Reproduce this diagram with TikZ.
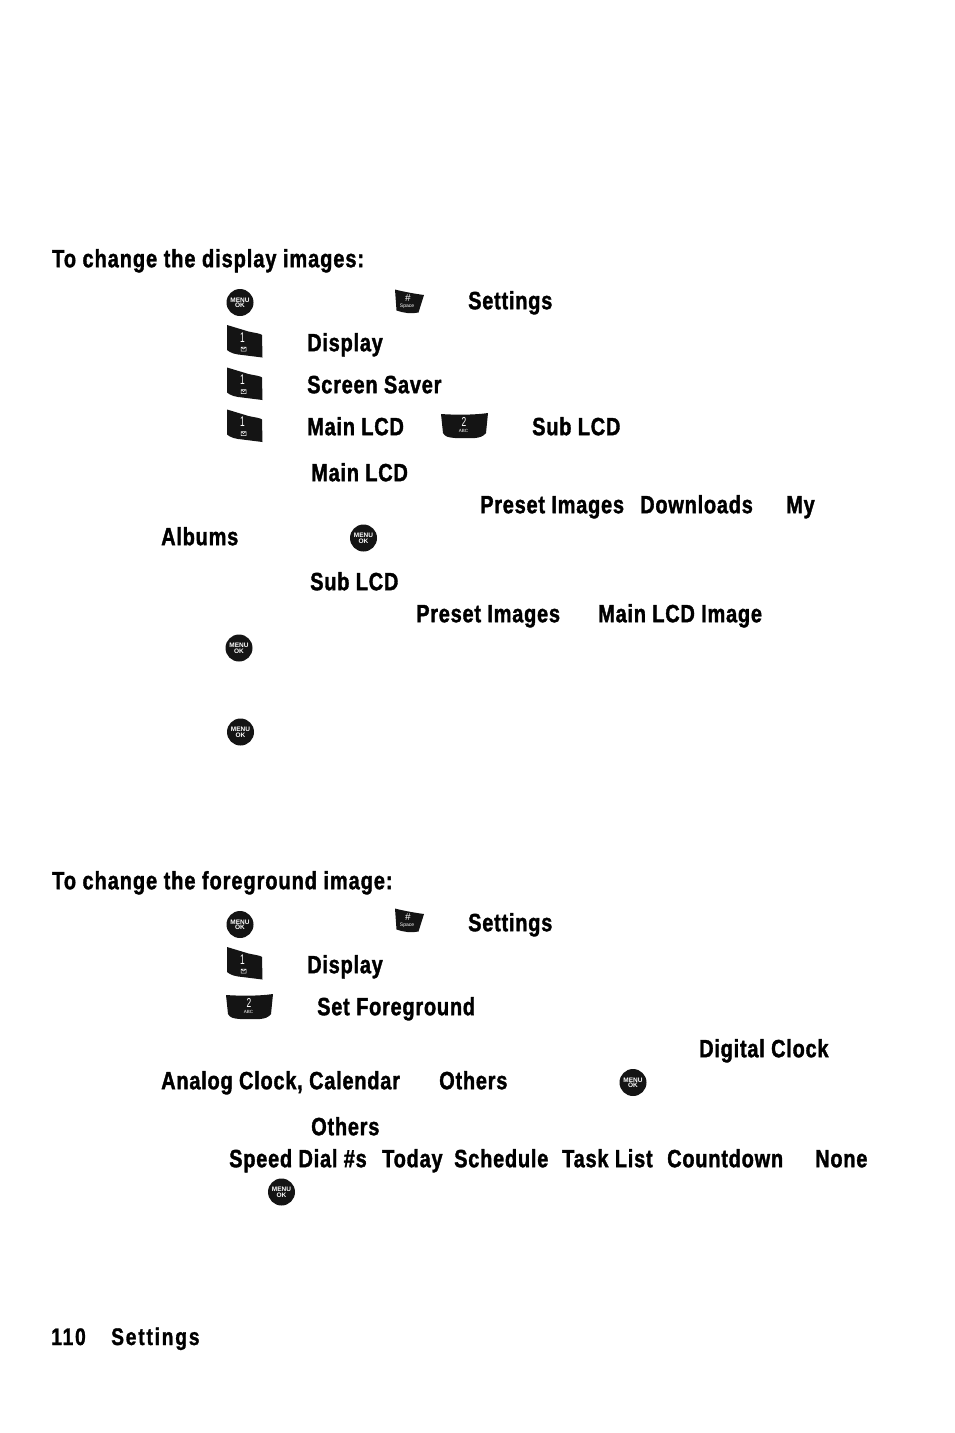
\documentclass[tikz,border=0pt]{standalone}
\usepackage{fontspec}
\setmainfont{Liberation Sans}[BoldFeatures={FakeStretch=0.8,FakeBold=1.4,LetterSpace=3}]
\newfontfamily\keyfont{Liberation Sans}
\newfontfamily\headfont{Liberation Sans}[BoldFeatures={FakeStretch=0.8,FakeBold=1.4,LetterSpace=3.7}]
\newfontfamily\footfont{Liberation Sans}[BoldFeatures={FakeStretch=0.8,FakeBold=1.2,LetterSpace=7.5}]
\begin{document}
\begin{tikzpicture}[x=1pt,y=-1pt,
  lbl/.style={anchor=base west,inner sep=0pt,yshift=0.8pt,font=\bfseries\fontsize{25}{25}\selectfont,text=black},
  head/.style={lbl,font=\headfont\bfseries\fontsize{25}{25}\selectfont},
  foot/.style={anchor=base west,inner sep=0pt,font=\footfont\bfseries\fontsize{24}{24}\selectfont,text=black},
  keytxt/.style={text=white,inner sep=0pt,font=\keyfont\fontsize{#1}{#1}\selectfont,align=center},
  menukey/.pic={
    \fill[black!92] (0,0) circle (13.5);
    \node[keytxt=6.5,font=\keyfont\bfseries\fontsize{6.5}{6.5}\selectfont] at (0,-2.7) {MENU};
    \node[keytxt=6.5,font=\keyfont\bfseries\fontsize{6.5}{6.5}\selectfont] at (0,3.2) {OK};
  },
  onekey/.pic={
    \fill[black!92] (-17.5,-16.5) -- (4,-10) .. controls (11,-8.5) and (16,-8) .. (17.5,-6.5)
       -- (18,16) -- (-2,13.5) .. controls (-9,13) and (-14,11.5) .. (-17.5,8.5) -- cycle;
    \node[keytxt=13,font=\keyfont\fontsize{14}{14}\selectfont] at (-2,-4) {\addfontfeature{FakeStretch=.6}1};
    \draw[white,line width=.5] (-3.5,5.5) rectangle (1.5,9.5) (-3.5,5.5) -- (-1,7.5) -- (1.5,5.5);
  },
  twokey/.pic={
    \fill[black!92] (-24,-11) .. controls (-10,-10) and (10,-10) .. (23,-12)
       -- (21,8) .. controls (18,12) and (14,12.5) .. (10,13)
       -- (-10,13) .. controls (-16,12.5) and (-20,12) .. (-22,8) -- cycle;
    \node[keytxt=13,font=\keyfont\fontsize{13}{13}\selectfont] at (-1,-3.5) {\addfontfeature{FakeStretch=.65}2};
    \node[keytxt=5,font=\keyfont\fontsize{4.5}{5}\selectfont] at (-1.5,6) {ABC};
  },
  hashkey/.pic={
    \fill[black!92] (-13.5,-12.5) .. controls (-4,-10) and (8,-8) .. (15.5,-7)
       -- (10,10.5) .. controls (3,12) and (-5,11) .. (-12,8.5) -- cycle;
    \node[keytxt=9,font=\keyfont\fontsize{10}{10}\selectfont] at (-0.5,-3.5) {\#};
    \node[keytxt=5,font=\keyfont\fontsize{5}{5}\selectfont] at (-1.5,4.5) {Space};
  }]
\useasboundingbox (0,0) rectangle (954,1433);
\fill[white] (0,0) rectangle (954,1433);
\node[head] (h1) at (52,268) {To change the display images:};
\pic at (240,302.5) {menukey};
\pic at (408.5,302) {hashkey};
\node[lbl] (a1) at (468,310) {Settings};
\pic at (244.5,341.5) {onekey};
\node[lbl] (a2) at (307,352) {Display};
\pic at (244.5,384) {onekey};
\node[lbl] (a3) at (307,394) {Screen Saver};
\pic at (244.5,426) {onekey};
\node[lbl] (a4) at (307,436) {Main LCD};
\pic at (465,425) {twokey};
\node[lbl] (a5) at (532,436) {Sub LCD};
\node[lbl] (b1) at (311,482) {Main LCD};
\node[lbl] (b2) at (480,514) {Preset Images};
\node[lbl] (b3) at (640,514) {Downloads};
\node[lbl] (b4) at (786,514) {My};
\node[lbl] (b5) at (161,546) {Albums};
\pic at (363.5,538) {menukey};
\node[lbl] (c1) at (310,591) {Sub LCD};
\node[lbl] (c2) at (416,623) {Preset Images};
\node[lbl] (c3) at (598,623) {Main LCD Image};
\pic at (239,648) {menukey};
\pic at (240.5,732) {menukey};
\node[head] (h2) at (52,890) {To change the foreground image:};
\pic at (240,924.5) {menukey};
\pic at (408.5,921) {hashkey};
\node[lbl] (d1) at (468,932) {Settings};
\pic at (244.5,963.5) {onekey};
\node[lbl] (d2) at (307,974) {Display};
\pic at (250,1006) {twokey};
\node[lbl] (d3) at (317,1016) {Set Foreground};
\node[lbl] (e1) at (699,1058) {Digital Clock};
\node[lbl] (e2) at (161,1090) {Analog Clock, Calendar};
\node[lbl] (e3) at (439,1090) {Others};
\pic at (633,1082.5) {menukey};
\node[lbl] (f1) at (311,1136) {Others};
\node[lbl] (f2) at (229,1168) {Speed Dial \#s};
\node[lbl] (f3) at (382,1168) {Today};
\node[lbl] (f4) at (454,1168) {Schedule};
\node[lbl] (f5) at (562,1168) {Task List};
\node[lbl] (f6) at (667,1168) {Countdown};
\node[lbl] (f7) at (815,1168) {None};
\pic at (281.5,1192) {menukey};
\node[foot] (p1) at (51,1345) {110};
\node[foot] (p2) at (111,1345) {Settings};
\end{tikzpicture}
\end{document}
